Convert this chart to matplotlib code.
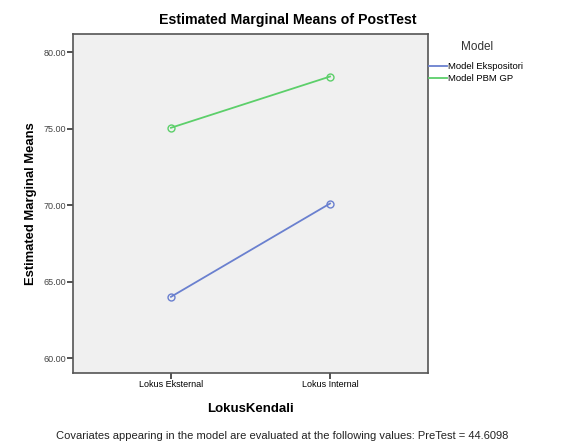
"""Estimated marginal means of PostTest (SPSS-style profile plot)."""
import matplotlib.pyplot as plt
import matplotlib as mpl

mpl.rcParams.update({
    "font.family": ["Liberation Sans", "DejaVu Sans"],
})

# Data
categories = ["Lokus Eksternal", "Lokus Internal"]
series_names = ["Model Ekspositori", "Model PBM GP"]
ekspositori = [64.0, 70.1]
pbm_gp = [75.05, 78.4]
y_ticks = [60, 65, 70, 75, 80]

COLORS = ["#6a80cf", "#5ccf6a"]
W, H, DPI = 563, 448, 100

fig = plt.figure(figsize=(W / DPI, H / DPI), dpi=DPI)
ax = fig.add_axes([73 / W, 1 - 373 / H, (428 - 73) / W, (373 - 34) / H])
ax.set_facecolor("#f0f0f0")

x = list(range(len(categories)))
for vals, name, col in zip([ekspositori, pbm_gp], series_names, COLORS):
    ax.plot(x, vals, color=col, lw=1.3, marker="o", ms=5, mfc="none",
            mec=col, mew=1.0, label=name)

ax.set_xlim(-0.616, 1.616)
ax.set_ylim(59.02, 81.18)
ax.set_xticks(x)
ax.set_xticklabels(categories, fontsize=6.5)
ax.set_yticks(y_ticks)
ax.set_yticklabels([f"{v:.2f}" for v in y_ticks], fontsize=6.5, color="#444444")
ax.tick_params(axis="both", length=4, width=1.2, color="#333333", pad=1)
for s in ax.spines.values():
    s.set_color("#555555")
    s.set_linewidth(1.2)

# title is centred on the whole figure, as SPSS does
fig.text(288 / W, 1 - 20 / H, "Estimated Marginal Means of PostTest",
         ha="center", va="center", fontsize=10.2, fontweight="bold")
ax.set_xlabel("LokusKendali", fontsize=9.5, fontweight="bold", labelpad=10)
fig.text(31 / W, 1 - 204 / H, "Estimated Marginal Means", rotation=90,
         ha="center", va="center", fontsize=9.4, fontweight="bold")

fig.text(477 / W, 1 - 47 / H, "Model", ha="center", va="center",
         fontsize=8.5, color="#333333")
leg = fig.legend(loc="upper left", bbox_to_anchor=(429 / W, 1 - 62 / H),
                 fontsize=6.8, frameon=False, handlelength=1.9,
                 handletextpad=0.15, labelspacing=0.3, borderpad=0,
                 borderaxespad=0)
for line in leg.get_lines():
    line.set_marker("")
    line.set_linewidth(1.3)

fig.text(282 / W, 1 - 436 / H,
         "Covariates appearing in the model are evaluated at the following values: PreTest = 44.6098",
         ha="center", va="center", fontsize=8.05, color="#222222")

fig.savefig("out.png", dpi=DPI)
